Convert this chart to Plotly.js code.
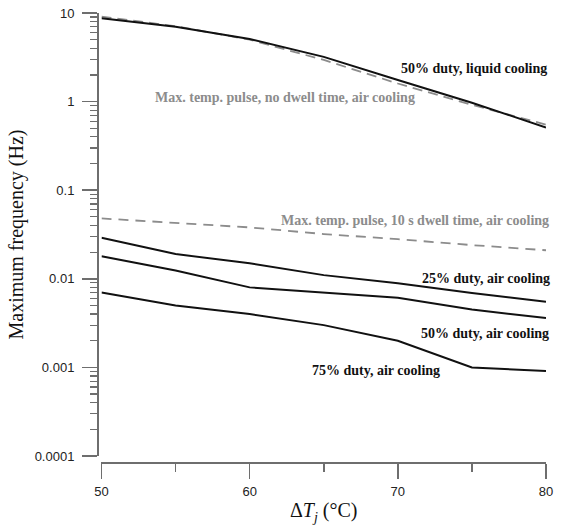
<!DOCTYPE html>
<html>
<head>
<meta charset="utf-8">
<script src="https://cdn.plot.ly/plotly-3.0.1.min.js"></script>
<style>html,body{margin:0;padding:0;background:#fff;}</style>
</head>
<body>
<div id="chart" style="width:563px;height:529px;"></div>
<script>
// Data
const deltaTj = [50, 55, 60, 65, 70, 75, 80];
const liquid50 = [8.7, 7.0, 5.1, 3.2, 1.75, 0.97, 0.51];
const noDwellAir = [9.1, 7.1, 5.0, 2.95, 1.6, 0.92, 0.55];
const dwell10Air = [0.048, 0.043, 0.038, 0.032, 0.028, 0.024, 0.021];
const duty25Air = [0.029, 0.019, 0.015, 0.011, 0.0089, 0.0069, 0.0055];
const duty50Air = [0.018, 0.0124, 0.008, 0.0070, 0.0061, 0.0045, 0.0036];
const duty75Air = [0.0070, 0.0050, 0.0040, 0.0030, 0.0020, 0.0010, 0.00091];
const yTickVals = [0.0001, 0.001, 0.01, 0.1, 1, 10];
const yTickText = ['0.0001', '0.001', '0.01', '0.1', '1', '10'];
const xTickVals = [50, 60, 70, 80];
const xMinorVals = [55, 65, 75];

const yMinor = [];
for (let d = -4; d <= 0; d++) for (let k = 2; k <= 9; k++) yMinor.push(k * Math.pow(10, d));

const black = '#111';
const gray = '#8c8c8c';
const axisCol = '#6e6e6e';

function tr(y, color, dash, width) {
  return {x: deltaTj, y: y, type: 'scatter', mode: 'lines',
    line: {color: color, width: width, dash: dash}, hoverinfo: 'skip', showlegend: false};
}

const data = [
  tr(noDwellAir, gray, '10px,6px', 1.8),
  tr(dwell10Air, gray, '10px,7px', 1.8),
  tr(liquid50, black, 'solid', 2),
  tr(duty25Air, black, 'solid', 2),
  tr(duty50Air, black, 'solid', 2),
  tr(duty75Air, black, 'solid', 2)
];

const annFont = (c) => ({family: 'Liberation Serif, Times New Roman, serif', size: 14, color: c, weight: 'bold'});
function ann(text, x, ylog, color, xshift) {
  return {text: '<b>' + text + '</b>', x: x, y: ylog, xref: 'x', yref: 'y',
    xanchor: 'right', yanchor: 'middle', showarrow: false, xshift: xshift || 0,
    font: annFont(color)};
}

const layout = {
  width: 563, height: 529,
  margin: {l: 97, r: 17, t: 13, b: 67},
  paper_bgcolor: '#fff', plot_bgcolor: '#fff',
  showlegend: false,
  xaxis: {
    domain: [0.01, 1], anchor: 'free', position: 0,
    range: [50, 80], showgrid: false, zeroline: false,
    showline: true, linecolor: axisCol, linewidth: 1.5,
    tickmode: 'array', tickvals: xTickVals, ticktext: xTickVals.map(String),
    ticks: 'outside', ticklen: 15, tickwidth: 1.5, tickcolor: axisCol,
    minor: {tickmode: 'array', tickvals: xMinorVals, ticks: 'outside', ticklen: 8, tickwidth: 1.5, tickcolor: axisCol, showgrid: false},
    tickfont: {family: 'Liberation Sans, Arial, sans-serif', size: 13, color: '#222'},
    ticklabelstandoff: 2,
    title: {text: 'Δ<i>T<sub>j</sub></i> (°C)', standoff: 5,
      font: {family: 'Liberation Serif, Times New Roman, serif', size: 20, color: '#111'}}
  },
  yaxis: {
    domain: [0.0134, 1], anchor: 'free', position: 0,
    type: 'log', range: [-4, 1], showgrid: false, zeroline: false,
    showline: true, linecolor: axisCol, linewidth: 1.5,
    tickmode: 'array', tickvals: yTickVals, ticktext: yTickText,
    ticks: 'outside', ticklen: 15, tickwidth: 1.5, tickcolor: axisCol,
    minor: {tickmode: 'array', tickvals: yMinor, ticks: 'outside', ticklen: 7, tickwidth: 1.2, tickcolor: axisCol, showgrid: false},
    tickfont: {family: 'Liberation Sans, Arial, sans-serif', size: 13, color: '#222'},
    ticklabelstandoff: 5,
    title: {text: 'Maximum frequency (Hz)', standoff: 4,
      font: {family: 'Liberation Serif, Times New Roman, serif', size: 20, color: '#111'}}
  },
  annotations: [
    ann('50% duty, liquid cooling', 80, 0.377, black, 3),
    ann('Max. temp. pulse, no dwell time, air cooling', 71.3, 0.05, gray, 0),
    ann('Max. temp. pulse, 10 s dwell time, air cooling', 80, -1.34, gray, 5),
    ann('25% duty, air cooling', 80, -2.0, black, 6),
    ann('50% duty, air cooling', 80, -2.62, black, 5),
    ann('75% duty, air cooling', 73.0, -3.03, black, 0)
  ]
};

Plotly.newPlot('chart', data, layout, {displayModeBar: false, staticPlot: true});
</script>
</body>
</html>
